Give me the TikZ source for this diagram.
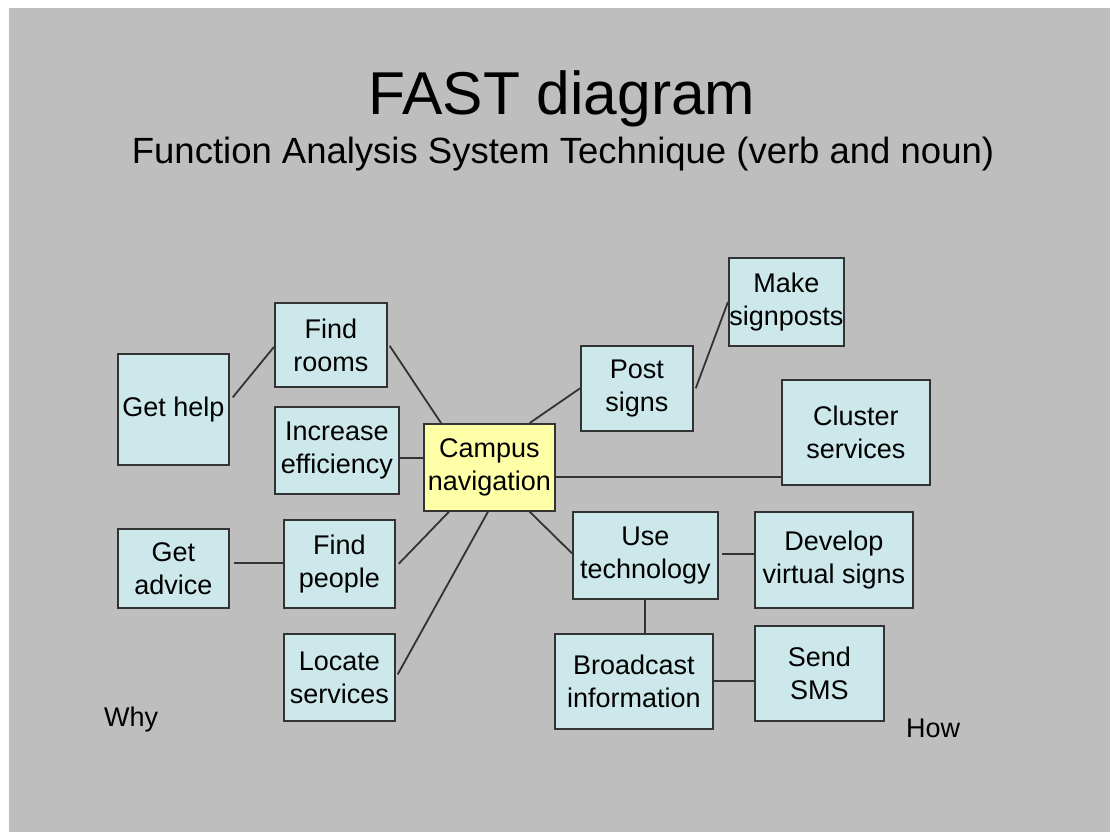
\documentclass[tikz,border=0pt]{standalone}
\usepackage{fontspec}
\setmainfont{Liberation Sans}
\begin{document}
\begin{tikzpicture}[x=1pt,y=-1pt,
  every node/.style={font=\fontsize{27}{33}\selectfont, text=black},
  fbox/.style={draw=black!80, line width=1.7pt, fill=boxcyan, inner sep=0pt, align=center, anchor=north west},
  hub/.style={fbox, fill=boxyellow},
  link/.style={draw=black!80, line width=1.8pt}]
\definecolor{boxcyan}{RGB}{204,232,235}
\definecolor{boxyellow}{RGB}{255,255,168}
\definecolor{slide}{RGB}{190,190,190}
% page and slide background
\fill[white] (0,0) rectangle (1110,832);
\fill[slide] (9,8) rectangle (1110,832);
\useasboundingbox (0,0) rectangle (1110,832);

% titles
\node[font=\fontsize{60.5}{70}\selectfont, anchor=base] (title) at (562,114) {FAST diagram};
\node[font=\fontsize{36.5}{42}\selectfont, anchor=base] (subtitle) at (563,163) {Function Analysis System Technique (verb and noun)};

% function boxes (top-left corner, size)
\node[fbox, minimum width=111pt, minimum height=111pt] (gethelp) at (117,353) {Get help};
\node[fbox, minimum width=112pt, minimum height=84pt] (findrooms) at (274,302) {Find\\rooms};
\node[fbox, minimum width=124pt, minimum height=87pt] (efficiency) at (274,406) {Increase\\efficiency};
\node[hub, minimum width=131pt, minimum height=87pt] (campus) at (423,423) {Campus\\navigation};
\node[fbox, minimum width=112pt, minimum height=85pt] (postsigns) at (580,345) {Post\\signs};
\node[fbox, minimum width=115pt, minimum height=88pt] (signposts) at (728,257) {Make\\signposts};
\node[fbox, minimum width=148pt, minimum height=105pt] (cluster) at (781,379) {Cluster\\services};
\node[fbox, minimum width=145pt, minimum height=87pt] (usetech) at (572,511) {Use\\technology};
\node[fbox, minimum width=158pt, minimum height=96pt] (virtual) at (754,511) {Develop\\virtual signs};
\node[fbox, minimum width=158pt, minimum height=95pt] (broadcast) at (554,633) {Broadcast\\information};
\node[fbox, minimum width=129pt, minimum height=95pt] (sms) at (754,625) {Send\\SMS};
\node[fbox, minimum width=111pt, minimum height=79pt] (getadvice) at (117,528) {Get\\advice};
\node[fbox, minimum width=111pt, minimum height=88pt] (findpeople) at (283,519) {Find\\people};
\node[fbox, minimum width=111pt, minimum height=87pt] (locate) at (283,633) {Locate\\services};

% axis labels
\node[anchor=base west, inner sep=0pt] (why) at (104,726) {Why};
\node[anchor=base west, inner sep=0pt] (how) at (906,737) {How};

% connection points
\coordinate (effout) at ([yshift=-8pt]efficiency.east);
\coordinate (campout) at ([yshift=-10pt]campus.east);
\coordinate (techout) at ([xshift=3pt,yshift=1pt]usetech.east);
\coordinate (advout) at ([xshift=4pt,yshift=5pt]getadvice.east);

% connectors
\path[link] ([xshift=3pt,yshift=12pt]gethelp.east) -- ([yshift=-2pt]findrooms.west);
\path[link] ([xshift=2pt,yshift=-1pt]findrooms.east) -- ([xshift=18pt]campus.north west);
\path[link] (effout) -- (effout -| campus.west);
\path[link] ([xshift=-26pt]campus.north east) -- (postsigns.west);
\path[link] ([xshift=2pt]postsigns.east) -- (signposts.west);
\path[link] (campout) -- (campout -| cluster.west);
\path[link] ([xshift=-26pt]campus.south east) -- ([yshift=2pt]usetech.west);
\path[link] (techout) -- (techout -| virtual.west);
\path[link] (usetech.south) -- (usetech.south |- broadcast.north);
\path[link] (broadcast.east) -- (sms.west |- broadcast.east);
\path[link] (advout) -- (advout -| findpeople.west);
\path[link] ([xshift=3pt]findpeople.east) -- ([xshift=26pt]campus.south west);
\path[link] ([xshift=2pt,yshift=3pt]locate.east) -- ([xshift=65pt]campus.south west);
\end{tikzpicture}
\end{document}
